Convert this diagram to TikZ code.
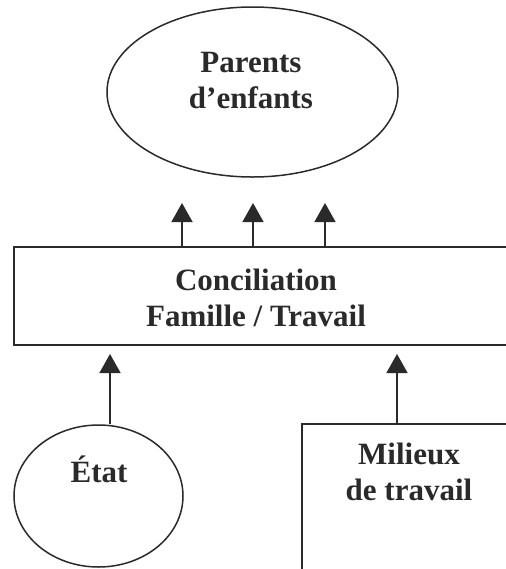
\documentclass[tikz,border=0pt]{standalone}
\usepackage{fontspec}
\setmainfont{Liberation Serif}
\usepackage{tikz}
\usetikzlibrary{arrows.meta, positioning, shapes.geometric}

\definecolor{ink}{HTML}{2A2A2A}

\begin{document}
\begin{tikzpicture}[x=0.5pt, y=-0.5pt, line width=0.75pt, draw=ink,
  oval/.style={ellipse, draw=ink, inner sep=0pt},
  box/.style={rectangle, draw=ink, inner sep=0pt},
  txt/.style={align=center, text=ink, inner sep=0pt,
    font=\bfseries\fontsize{15.5}{18}\selectfont},
  up/.style={-{Triangle[length=9.5pt, width=10.5pt]}, draw=ink, fill=ink}]
\useasboundingbox (0,0) rectangle (506,569);
\clip (0,0) rectangle (506,569);

\node [oval, minimum width=145.5pt, minimum height=85pt] (parents) at (252.5,92) {};
\node [txt] (parentstxt) at (251,80) {Parents\\d'enfants};

\node [box, minimum width=248pt, minimum height=49pt] (conc) at (262,296) {};
\node [txt] (conctxt) at (256,298) {Conciliation\\Famille / Travail};

\node [oval, minimum width=84.5pt, minimum height=71pt] (etat) at (98.5,496) {};
\node [txt, anchor=base] (etattxt) at (99,482) {État};

\node [box, minimum width=109pt, minimum height=83pt] (milieux) at (411,507) {};
\node [txt] (milieuxtxt) at (409,472) {Milieux\\de travail};

\foreach \x [count=\i] in {182,253,325} {
  \coordinate (p\i) at (\x,203);
  \draw[up] (conc.north -| p\i) -- (p\i);
}
\coordinate (t1) at (110,354);
\coordinate (t2) at (397,354);
\draw[up] (etat.north -| t1) -- (t1);
\draw[up] (milieux.north -| t2) -- (t2);
\end{tikzpicture}
\end{document}
